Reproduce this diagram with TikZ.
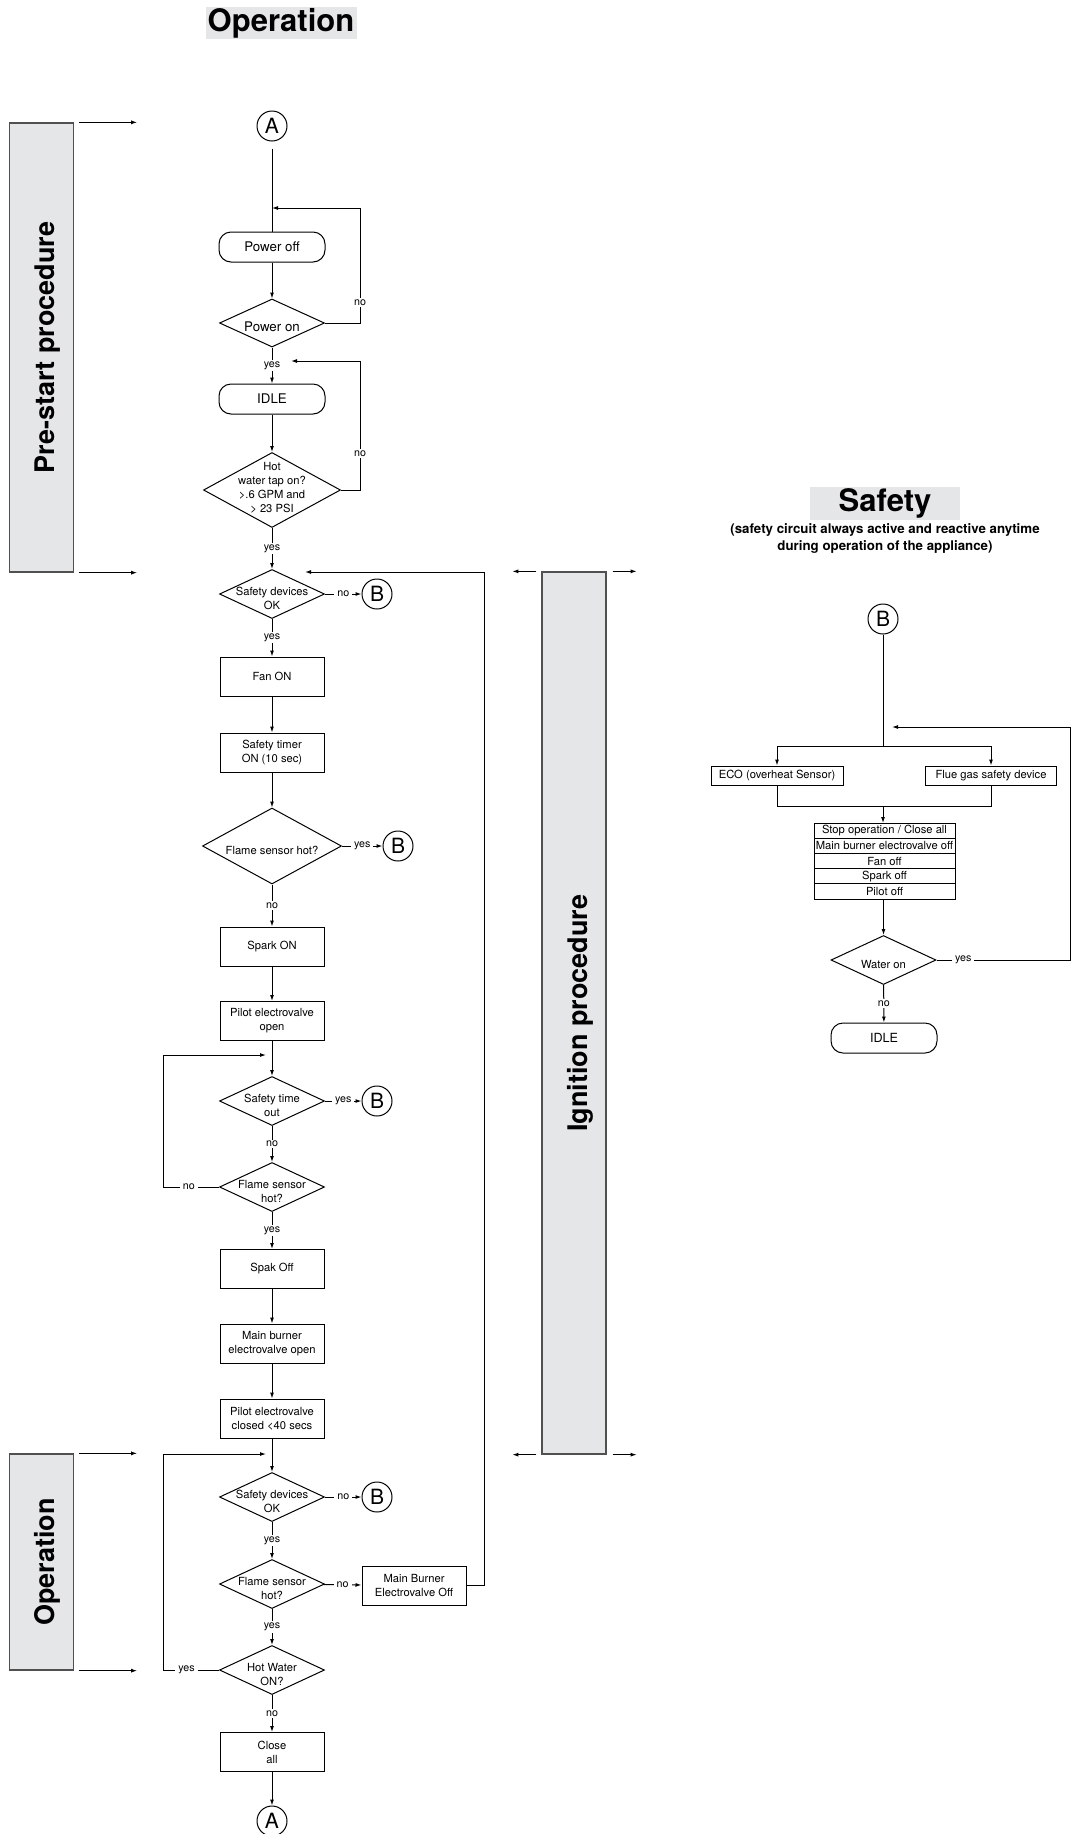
\documentclass[tikz,border=0pt]{standalone}
\usepackage{fontspec}
\setmainfont{TeX Gyre Heros}
\usetikzlibrary{shapes.geometric, arrows.meta, positioning}

\definecolor{panelgray}{HTML}{E5E6E7}
\definecolor{edgegray}{HTML}{505050}
\newcommand{\boxfont}{\fontsize{11.2}{14}\selectfont}
\newcommand{\termfont}{\fontsize{13.3}{16}\selectfont}
\newcommand{\lblfont}{\fontsize{10.7}{12}\selectfont}

\tikzset{
  stepbox/.style={draw, rectangle, minimum width=104, minimum height=39, inner sep=1, align=center, font=\boxfont},
  termbox/.style={draw, rectangle, rounded corners=12, minimum width=106, minimum height=30, inner sep=1, font=\termfont},
  dtext/.style={align=center, font=\boxfont, inner sep=0, yshift=-4},
  dia/.style={draw, diamond, inner sep=0, minimum width=105, minimum height=49, label={[dtext]center:#1}},
  bigdia/.style={dia={#1}, minimum width=139, minimum height=76},
  conn/.style={draw, circle, minimum size=30, inner sep=0, font=\fontsize{21}{21}\selectfont},
  lbl/.style={fill=white, inner xsep=3, inner ysep=1.5, font=\lblfont},
  phase/.style={draw=edgegray, fill=panelgray, line width=1.3pt, minimum width=64, inner sep=0},
  phasetext/.style={rotate=90, inner sep=0, font=\fontsize{27}{27}\selectfont\bfseries},
  title/.style={fill=panelgray, inner sep=0, font=\fontsize{31}{31}\selectfont\bfseries},
  safebox/.style={draw, rectangle, minimum width=132, minimum height=19, inner sep=0, font=\boxfont},
  row/.style={draw, rectangle, minimum width=141, minimum height=15.2, inner sep=0, outer sep=0, font=\boxfont},
}

\begin{document}
\begin{tikzpicture}[x=1pt, y=-1pt, line width=1pt, >={Latex[length=6pt,width=4pt]}]
\useasboundingbox (0,0) rectangle (1072,1834);   % page frame

% ---- headings and phase bars
\node[title, minimum width=151, minimum height=32] (optitle) at (281,23) {Operation};
\node[phase, minimum height=449] (pre) at (41.5,347.5) {};
\node[phase, minimum height=216] (opbar) at (41.5,1562) {};
\node[phase, minimum height=882] (ign) at (574,1013) {};
\node[phasetext] (pretxt) at ([xshift=6]pre.center) {Pre-start procedure};
\node[phasetext] (optxt) at ([xshift=6]opbar.center) {Operation};
\node[phasetext] (igntxt) at ([xshift=6]ign.center) {Ignition procedure};
\draw[->] ([xshift=5]pre.north east) -- ++(58,0);     % phase limits
\draw[->] ([xshift=5]pre.south east) -- ++(58,0);
\draw[->] ([xshift=5]opbar.north east) -- ++(58,0);
\draw[->] ([xshift=5]opbar.south east) -- ++(58,0);
\draw[->] ([xshift=-5]ign.north west) -- ++(-24,0);
\draw[->] ([xshift=6]ign.north east) -- ++(24,0);
\draw[->] ([xshift=-5]ign.south west) -- ++(-24,0);
\draw[->] ([xshift=6]ign.south east) -- ++(24,0);

% ---- main sequence
\node[conn] (A1) at (272,126) {A};
\node[termbox] (pwoff) at (272,247) {Power off};
\node[dia={\termfont Power on}, minimum height=48] (pwon) at (272,323) {};
\node[termbox] (idle) at (272,399) {IDLE};
\node[draw, diamond, inner sep=0, minimum width=137, minimum height=75,
      label={[dtext, yshift=6]center:Hot\\water tap on?\\>.6 GPM and\\> 23 PSI}] (hw) at (272,490) {};
\node[dia={Safety devices\\OK}] (sd1) at (272,594) {};
\node[conn] (b1) at (377,594) {B};
\node[stepbox] (fan) at (272,676.5) {Fan ON};
\node[stepbox] (timer) at (272,752.5) {Safety timer\\ON (10 sec)};
\node[bigdia={Flame sensor hot?}] (fs1) at (272,846) {};
\node[conn] (b2) at (398,846) {B};
\node[stepbox] (spark) at (272,946.5) {Spark ON};
\node[stepbox] (pilot) at (272,1021) {Pilot electrovalve\\open};
\node[dia={Safety time\\out}] (st) at (272,1101) {};
\node[conn] (b3) at (377,1101) {B};
\node[dia={Flame sensor\\hot?}] (fs2) at (272,1187) {};
\node[stepbox] (spakoff) at (272,1269) {Spak Off};
\node[stepbox] (mbopen) at (272,1343.5) {Main burner\\electrovalve open};
\node[stepbox] (pclosed) at (272,1418.5) {Pilot electrovalve\\closed <40 secs};
\node[dia={Safety devices\\OK}] (sd2) at (272,1497) {};
\node[conn] (b4) at (377,1497) {B};
\node[dia={Flame sensor\\hot?}] (fs3) at (272,1584) {};
\node[stepbox] (mboff) at (414,1585.5) {Main Burner\\Electrovalve Off};
\node[dia={Hot Water\\ON?}] (hwon) at (272,1670) {};
\node[stepbox] (close) at (272,1752) {Close\\all};
\node[conn] (A2) at (272,1821) {A};

\draw[shorten <=7pt] (A1) -- (pwoff);
\draw[->] (pwoff) -- (pwon);
\draw[->] (pwon) -- node[lbl]{yes} (idle);
\draw[->] (idle) -- (hw);
\draw[->] (hw) -- node[lbl]{yes} (sd1);
\draw[->] (sd1) -- node[lbl]{no} (b1);
\draw[->] (sd1) -- node[lbl]{yes} (fan);
\draw[->] (fan) -- (timer);
\draw[->] (timer) -- (fs1);
\draw[->] (fs1) -- node[lbl]{yes} (b2);
\draw[->] (fs1) -- node[lbl]{no} (spark);
\draw[->] (spark) -- (pilot);
\draw[->] (pilot) -- (st);
\draw[->] (st) -- node[lbl]{yes} (b3);
\draw[->] (st) -- node[lbl]{no} (fs2);
\draw[->] (fs2) -- node[lbl]{yes} (spakoff);
\draw[->] (spakoff) -- (mbopen);
\draw[->] (mbopen) -- (pclosed);
\draw[->] (pclosed) -- (sd2);
\draw[->] (sd2) -- node[lbl]{no} (b4);
\draw[->] (sd2) -- node[lbl]{yes} (fs3);
\draw[->] (fs3) -- node[lbl]{no} (mboff);
\draw[->] (fs3) -- node[lbl]{yes} (hwon);
\draw[->] (hwon) -- node[lbl]{no} (close);
\draw[->] (close) -- (A2);

% ---- return loops
\coordinate (j1) at (272,208);
\coordinate (j2) at (291,361);
\coordinate (j3) at (266,1055);
\coordinate (j4) at (266,1454);
\coordinate (j5) at (305,572);
\draw[->] (pwon.east) -| node[lbl,pos=0.59]{no} (360,208) -- (j1);
\draw[->] (hw.east) -| node[lbl,pos=0.64]{no} (360,361) -- (j2);
\draw[->] (fs2.west) -| node[lbl,pos=0.27]{no} (163,1055) -- (j3);
\draw[->] (hwon.west) -| node[lbl,pos=0.29]{yes} (163,1454) -- (j4);
\draw[->] (mboff.east) -| (484,572) -- (j5);

% ---- safety circuit
\node[title, minimum width=150, minimum height=33] (safetitle) at (885,503) {Safety};
\node[align=center, font=\fontsize{13.3}{17}\selectfont\bfseries] (safenote) at (885,538.5) {(safety circuit always active and reactive anytime\\during operation of the appliance)};
\node[conn] (B5) at (883,619) {B};
\node[safebox] (eco) at (777,775.5) {ECO (overheat Sensor)};
\node[safebox, minimum width=131] (flue) at (991,775.5) {Flue gas safety device};
\node[row] (t1) at (884.5,830.6) {Stop operation / Close all};
\node[row, below=0pt of t1] (t2) {Main burner electrovalve off};
\node[row, below=0pt of t2] (t3) {Fan off};
\node[row, below=0pt of t3] (t4) {Spark off};
\node[row, below=0pt of t4] (t5) {Pilot off};
\node[dia={Water on}] (wateron) at (883.5,960) {};
\node[termbox, font=\fontsize{12.6}{15}\selectfont] (idle2) at (884,1038) {IDLE};

\coordinate (split) at (883,746);
\coordinate (merge) at (883,806);
\coordinate (jS) at (892,727);
\draw (B5) -- (split);
\draw[->] (split) -| (eco.north);
\draw[->] (split) -| (flue.north);
\draw (eco.south) |- (merge);
\draw (flue.south) |- (merge);
\draw[->] (merge) -- (merge |- t1.north);
\draw[->] (t5.south -| wateron.north) -- (wateron.north);
\draw[->] (wateron.east) -| node[lbl,pos=0.1]{yes} (1070,727) -- (jS);
\draw[->] (wateron) -- node[lbl]{no} (idle2);
\end{tikzpicture}
\end{document}
